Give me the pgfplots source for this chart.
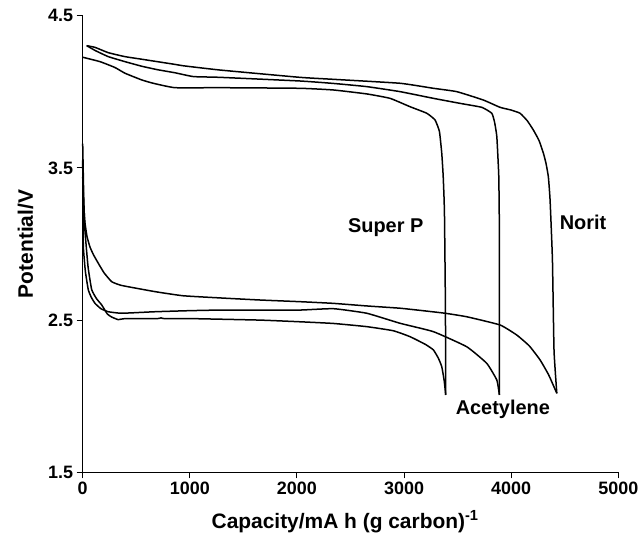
\documentclass[border=0pt]{standalone}
\usepackage{fontspec}
\setmainfont{Liberation Sans}
\usepackage{pgfplots}
\pgfplotsset{compat=1.18}
\begin{document}
\begin{tikzpicture}
\begin{axis}[
  scale only axis, width=535.6bp, height=456.6bp,
  xmin=0, xmax=5000, ymin=1.5, ymax=4.5,
  axis lines=left, axis line style={-, line width=1.1bp, black},
  tick align=outside, major tick length=6bp,
  every tick/.style={line width=1.1bp, black},
  xtick={0,1000,2000,3000,4000,5000}, ytick={1.5,2.5,3.5,4.5},
  /pgf/number format/assume math mode=true,
  /pgf/number format/1000 sep={},
  yticklabel style={/pgf/number format/fixed, /pgf/number format/fixed zerofill, /pgf/number format/precision=1},
  ticklabel style={font=\fontsize{18}{21}\selectfont\bfseries},
  xlabel={Capacity/mA h (g carbon)\textsuperscript{-1}},
  ylabel={Potential/V},
  xlabel style={at={(axis description cs:0.49,-0.122)}, anchor=base, font=\fontsize{21}{24}\selectfont\bfseries},
  ylabel style={at={(axis description cs:-0.0928,0.5)}, anchor=base, font=\fontsize{21}{24}\selectfont\bfseries},
  cycle list={{black, solid, mark=none}},
  every axis plot/.append style={line width=1.5bp, line join=round, smooth, tension=0.25},
  clip=false,
]
% Super P discharge
\addplot coordinates {(0,3.66) (10,3.30) (21,3.09) (50,2.85) (84,2.70) (130,2.64) (177,2.60) (230,2.54) (271,2.52) (332,2.503) (395,2.51) (700,2.51) (730,2.515) (760,2.51) (1000,2.51) (1655,2.50) (2028,2.489) (2340,2.478) (2652,2.457) (2900,2.43) (3056,2.391) (3200,2.34) (3274,2.304) (3320,2.25) (3352,2.194) (3375,2.10) (3389,2.008)};
% Super P charge
\addplot coordinates {(3389,2.008) (3386,2.6) (3378,3.158) (3374,3.289) (3365,3.45) (3352,3.596) (3330,3.74) (3289,3.815) (3212,3.859) (3056,3.902) (2869,3.957) (2652,3.986) (2340,4.012) (2028,4.023) (1282,4.027) (862,4.027) (659,4.056) (551,4.078) (395,4.122) (300,4.16) (162,4.198) (0,4.227)};
% Acetylene discharge
\addplot coordinates {(0,3.55) (3,3.2) (6,2.98) (25,2.82) (52,2.70) (80,2.65) (115,2.61) (170,2.575) (239,2.555) (364,2.545) (675,2.555) (1000,2.562) (1282,2.566) (1655,2.566) (2028,2.566) (2340,2.575) (2652,2.545) (2963,2.479) (3274,2.424) (3585,2.325) (3772,2.216) (3866,2.106) (3890,2.008)};
% Acetylene charge
\addplot coordinates {(3890,2.008) (3890,2.6) (3889,3.158) (3884,3.45) (3866,3.705) (3845,3.80) (3819,3.859) (3725,3.898) (3523,3.924) (3274,3.957) (2963,4.001) (2652,4.034) (2340,4.055) (2028,4.071) (1282,4.095) (1033,4.100) (862,4.125) (700,4.145) (551,4.168) (395,4.198) (239,4.231) (120,4.27) (37,4.303)};
% Norit discharge
\addplot coordinates {(0,3.44) (10,3.25) (21,3.14) (40,3.05) (68,2.98) (100,2.93) (146,2.873) (200,2.81) (271,2.752) (350,2.73) (426,2.719) (675,2.687) (936,2.66) (1300,2.645) (1655,2.632) (2028,2.621) (2340,2.61) (2652,2.593) (2963,2.578) (3200,2.56) (3383,2.545) (3585,2.522) (3896,2.468) (4052,2.402) (4170,2.33) (4270,2.238) (4350,2.14) (4426,2.019)};
% Norit charge
\addplot coordinates {(4426,2.019) (4400,2.3) (4385,2.9) (4363,3.29) (4347,3.442) (4325,3.53) (4301,3.596) (4260,3.68) (4207,3.749) (4150,3.81) (4083,3.859) (4000,3.88) (3896,3.898) (3740,3.946) (3492,4.001) (3274,4.023) (2963,4.056) (2340,4.082) (2028,4.095) (1282,4.143) (939,4.171) (862,4.18) (551,4.214) (395,4.231) (239,4.257) (115,4.292) (37,4.303)};
\node[font=\fontsize{20}{24}\selectfont\bfseries] at (axis cs:2829,3.11) {Super P};
\node[font=\fontsize{20}{24}\selectfont\bfseries] at (axis cs:4671,3.145) {Norit};
\node[font=\fontsize{20}{24}\selectfont\bfseries] at (axis cs:3922,1.915) {Acetylene};
\coordinate (O) at (rel axis cs:0,0);
\end{axis}
\pgfresetboundingbox
\path[use as bounding box] ([shift={(-82.7bp,-66.7bp)}]O) rectangle ([shift={(555.3bp,472.3bp)}]O);
\end{tikzpicture}
\end{document}
